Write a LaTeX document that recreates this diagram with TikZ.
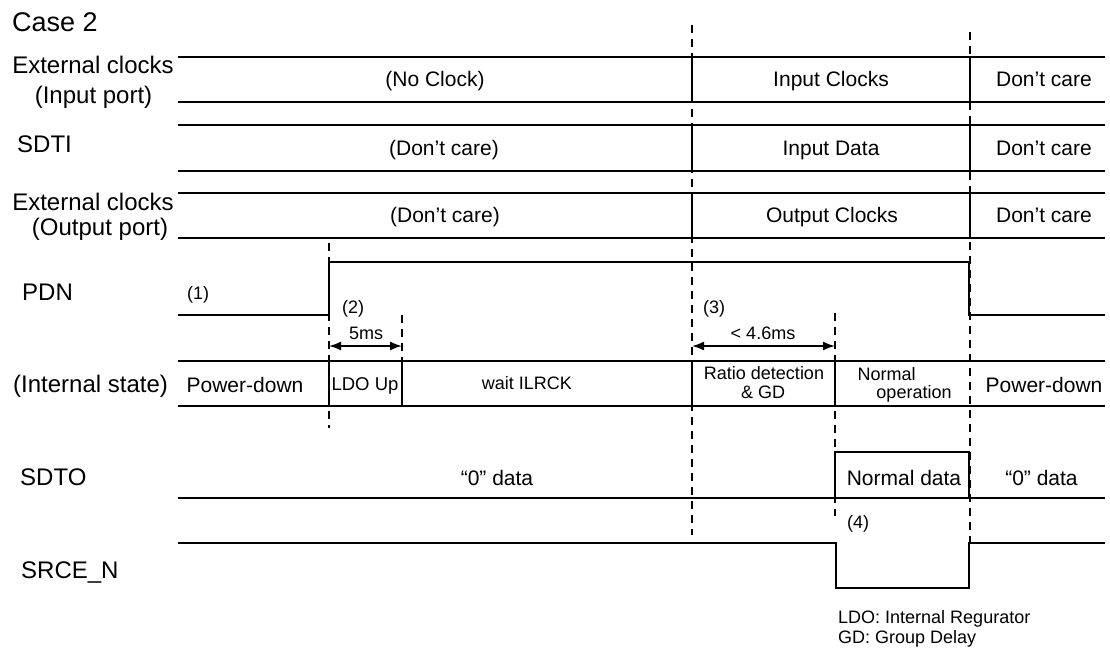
\documentclass[tikz,border=0pt]{standalone}
\usepackage{fontspec}
\setmainfont{Liberation Sans}
\usetikzlibrary{arrows.meta}
\begin{document}
\begin{tikzpicture}[x=1pt,y=-1pt,
  sig/.style={line width=1.7pt},
  dsh/.style={line width=1.7pt, dash pattern=on 8pt off 6pt},
  ttl/.style={font=\fontsize{27}{30}\selectfont, inner sep=0pt, anchor=base west},
  lbl/.style={font=\fontsize{24}{27}\selectfont, inner sep=0pt},
  bus/.style={font=\fontsize{21}{24}\selectfont, inner sep=0pt, anchor=base},
  sml/.style={font=\fontsize{18}{21}\selectfont, inner sep=0pt},
  dimarrow/.style={line width=1.7pt, {Latex[length=12pt,width=9pt]}-{Latex[length=12pt,width=9pt]}}]
\useasboundingbox (0,0) rectangle (1110,650);

% ---------- left labels ----------
\node[ttl] (case) at (12,32) {Case 2};
\node[lbl, anchor=base] (ext1) at (93,74) {External clocks};
\node[lbl, anchor=base] (ext1b) at (93.5,103) {(Input port)};
\node[lbl, anchor=base west] (sdti) at (17,152) {SDTI};
\node[lbl, anchor=base] (ext2) at (93,210) {External clocks};
\node[lbl, anchor=base] (ext2b) at (100,235) {(Output port)};
\node[lbl, anchor=base west] (pdn) at (22,300) {PDN};
\node[lbl, anchor=base west] (ist) at (13,392) {(Internal state)};
\node[lbl, anchor=base west] (sdto) at (20,485) {SDTO};
\node[lbl, anchor=base west] (srce) at (21,578) {SRCE\_N};

% ---------- dashed markers ----------
\draw[dsh] (692,25) -- (692,535);
\draw[dsh] (970,32) -- (970,543);
\draw[dsh] (329,243) -- (329,428);
\draw[dsh] (402,315) -- (402,361);
\draw[dsh] (835,313) -- (835,516);

% ---------- bus rows ----------
\foreach \ya/\yb in {57/102, 125/171, 193/238}{
  \draw[sig] (178,\ya) -- (1105,\ya);
  \draw[sig] (178,\yb) -- (1105,\yb);
  \draw[sig] (692,\ya) -- (692,\yb);
  \draw[sig] (970,\ya) -- (970,\yb);
}
\node[bus] (r1a) at (435,87) {(No Clock)};
\node[bus] (r1b) at (831,87) {Input Clocks};
\node[bus] (r1c) at (1044,87) {Don’t care};
\node[bus] (r2a) at (444,155) {(Don’t care)};
\node[bus] (r2b) at (831,155) {Input Data};
\node[bus] (r2c) at (1044,155) {Don’t care};
\node[bus] (r3a) at (445,222) {(Don’t care)};
\node[bus] (r3b) at (832,222) {Output Clocks};
\node[bus] (r3c) at (1044,222) {Don’t care};

% ---------- PDN ----------
\draw[sig] (178,315) -- (329,315) -- (329,262) -- (969,262) -- (969,315) -- (1105,315);
\node[sml, anchor=base west] (n1) at (187,299) {(1)};
\node[sml, anchor=base west] (n2) at (342,313) {(2)};
\node[sml, anchor=base west] (n3) at (703,313) {(3)};
\coordinate (a1) at (329,346);
\coordinate (b1) at (402,346);
\coordinate (a2) at (692,346);
\coordinate (b2) at (835,346);
\draw[dimarrow] (a1) -- (b1);
\draw[dimarrow] (a2) -- (b2);
\node[sml, anchor=base] (t1) at (366,339) {5ms};
\node[sml, anchor=base] (t2) at (763,339) {< 4.6ms};

% ---------- internal state ----------
\draw[sig] (178,361) -- (1105,361);
\draw[sig] (178,406) -- (1105,406);
\foreach \x in {329,402,692,835}{ \draw[sig] (\x,361) -- (\x,406); }
\node[bus] (s1) at (245,392) {Power-down};
\node[sml, anchor=base, font=\fontsize{18.5}{21}\selectfont] (s2) at (365,390) {LDO Up};
\node[sml, anchor=base] (s3) at (527,389) {wait ILRCK};
\node[sml, anchor=base] (s4a) at (764,379) {Ratio detection};
\node[sml, anchor=base] (s4b) at (763,398) {\& GD};
\node[sml, anchor=base] (s5a) at (886.5,380) {Normal};
\node[sml, anchor=base] (s5b) at (914,398) {operation};
\node[bus] (s6) at (1044,392) {Power-down};

% ---------- SDTO ----------
\draw[sig] (178,498) -- (1105,498);
\draw[sig] (835,498) -- (835,452) -- (969,452) -- (969,498);
\node[bus] (d1) at (497,485) {“0” data};
\node[bus] (d2) at (904,485) {Normal data};
\node[bus] (d3) at (1041.5,485) {“0” data};

% ---------- SRCE_N ----------
\draw[sig] (178,543) -- (836,543) -- (836,588) -- (969,588) -- (969,543) -- (1105,543);
\node[sml, anchor=base west] (n4) at (847,528) {(4)};

% ---------- legend ----------
\node[sml, anchor=base west] (leg1) at (838,623) {LDO: Internal Regurator};
\node[sml, anchor=base west] (leg2) at (838,643) {GD: Group Delay};
\end{tikzpicture}
\end{document}
